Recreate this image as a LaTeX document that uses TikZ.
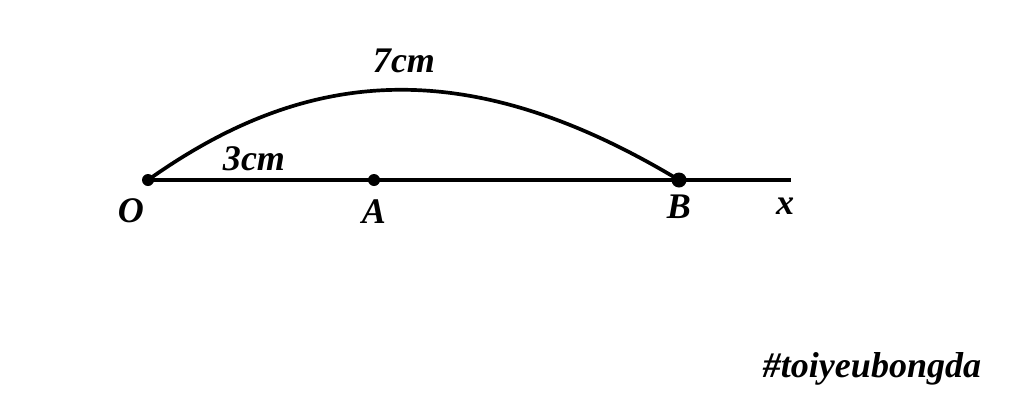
\documentclass[tikz,border=0pt]{standalone}
\usepackage{fontspec}
\setmainfont{Liberation Serif}
\usepackage{tikz}

\begin{document}
\begin{tikzpicture}[x=0.02cm,y=-0.02cm,line width=2.1pt,
    lbl/.style={font=\fontsize{20.5}{24}\selectfont\bfseries\itshape}]
      \useasboundingbox (0,0) rectangle (1024,416);
      \coordinate (O) at (148,180);
      \coordinate (A) at (374,180);
      \coordinate (B) at (679,180);
      \coordinate (X) at (791,180);
      \draw (O) -- (X);
      \draw (O) .. controls (300,72) and (460,48) .. (B);
      \fill (O) circle (6);
      \fill (A) circle (6);
      \fill (B) circle (7.5);
      \node [lbl] (lO) at (131,211) {O};
      \node [lbl] (lA) at (374,212) {A};
      \node [lbl] (lB) at (679,207) {B};
      \node [lbl] (lx) at (785,206) {x};
      \node [lbl] (l3) at (254,159) {3cm};
      \node [lbl] (l7) at (404,61) {7cm};
      \node [lbl] (tag) at (872,369) {\#toiyeubongda};
      %
\end{tikzpicture}
\end{document}
